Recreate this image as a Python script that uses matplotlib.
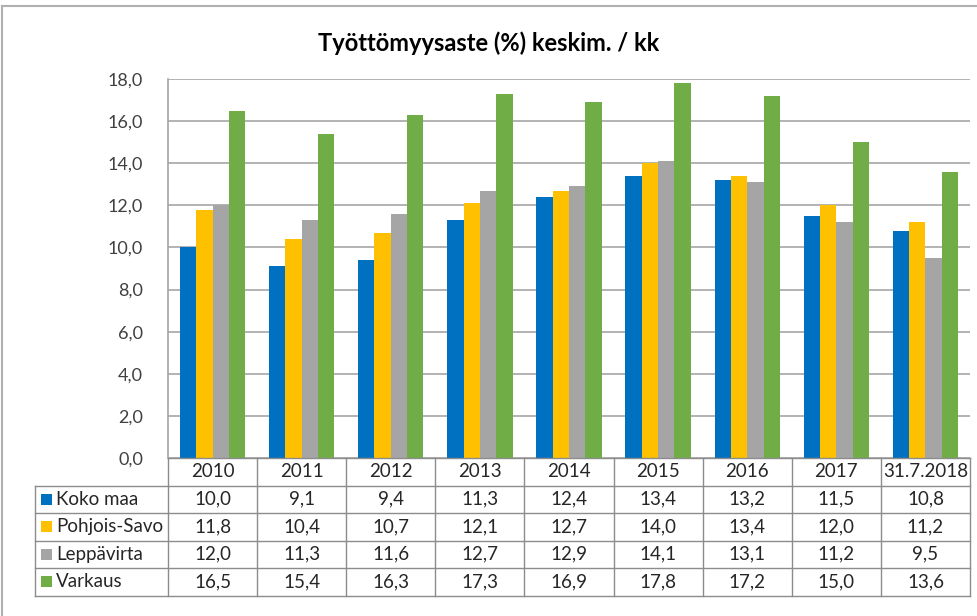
import matplotlib.pyplot as plt
from matplotlib.patches import Rectangle
from matplotlib.lines import Line2D

plt.rcParams["font.family"] = ["Lato", "DejaVu Sans"]

periods = ["2010", "2011", "2012", "2013", "2014", "2015", "2016", "2017", "31.7.2018"]
series_names = ["Koko maa", "Pohjois-Savo", "Leppävirta", "Varkaus"]
koko_maa = [10.0, 9.1, 9.4, 11.3, 12.4, 13.4, 13.2, 11.5, 10.8]
pohjois_savo = [11.8, 10.4, 10.7, 12.1, 12.7, 14.0, 13.4, 12.0, 11.2]
leppavirta = [12.0, 11.3, 11.6, 12.7, 12.9, 14.1, 13.1, 11.2, 9.5]
varkaus = [16.5, 15.4, 16.3, 17.3, 16.9, 17.8, 17.2, 15.0, 13.6]
series_values = [koko_maa, pohjois_savo, leppavirta, varkaus]
colors = ["#0070C0", "#FFC000", "#A5A5A5", "#70AD47"]
yticks = [0, 2, 4, 6, 8, 10, 12, 14, 16, 18]

W, H = 978, 616
fig = plt.figure(figsize=(W / 100, H / 100), dpi=100)


def px(x, y):
    return x / W, 1 - y / H


# outer chart border (only top and left edges are inside the crop)
border_kw = dict(color="#B0B0B0", linewidth=1.5, transform=fig.transFigure)
fig.add_artist(Line2D([px(2, 0)[0], 1.0], [px(0, 6)[1]] * 2, **border_kw))
fig.add_artist(Line2D([px(2, 0)[0]] * 2, [px(0, 6)[1], 0.0], **border_kw))

ax_l, ax_r, ax_t, ax_b = 168, 970, 79, 458
ax = fig.add_axes([ax_l / W, 1 - ax_b / H, (ax_r - ax_l) / W, (ax_b - ax_t) / H])

n = len(periods)
bar_w = 0.183
for i, (vals, col) in enumerate(zip(series_values, colors)):
    xs = [k + (i - 1.5) * bar_w for k in range(n)]
    ax.bar(xs, vals, width=bar_w, color=col, zorder=3)

ax.set_xlim(-0.5, n - 0.5)
ax.set_ylim(0, 18)
ax.set_yticks(yticks)
ax.set_yticklabels([f"{v:.1f}".replace(".", ",") for v in yticks], fontsize=13, color="#404040")
ax.tick_params(axis="y", length=0, pad=18)
ax.set_xticks([])
ax.grid(axis="y", color="#A6A6A6", linewidth=1.2, zorder=0)
for s in ["top", "right", "bottom"]:
    ax.spines[s].set_visible(False)
ax.spines["left"].set_color("#A6A6A6")
ax.spines["left"].set_linewidth(1.2)

fig.text(0.5, 1 - 43 / H, "Työttömyysaste (%) keskim. / kk", ha="center", va="center",
         fontsize=17, fontweight="bold", color="#000000")

# data table under the axis
line_kw = dict(color="#8C8C8C", linewidth=1.0, transform=fig.transFigure)
row_edges = [458, 485.5, 513, 540.5, 568, 595.5]
tab_l = 35
col_w = (ax_r - ax_l) / n
col_edges = [ax_l + k * col_w for k in range(n + 1)]

for j, y in enumerate(row_edges):
    x0 = ax_l if j == 0 else tab_l
    fig.add_artist(Line2D([px(x0, y)[0], px(ax_r, y)[0]], [px(x0, y)[1]] * 2, **line_kw))
for x in col_edges:
    fig.add_artist(Line2D([px(x, 0)[0]] * 2, [px(x, row_edges[0])[1], px(x, row_edges[-1])[1]], **line_kw))
fig.add_artist(Line2D([px(tab_l, 0)[0]] * 2, [px(0, row_edges[1])[1], px(0, row_edges[-1])[1]], **line_kw))

txt_kw = dict(fontsize=13.5, color="#262626", va="center")
for k, p in enumerate(periods):
    cx = (col_edges[k] + col_edges[k + 1]) / 2
    cy = (row_edges[0] + row_edges[1]) / 2
    fig.text(*px(cx, cy), p, ha="center", **txt_kw)

for r, (name, vals, col) in enumerate(zip(series_names, series_values, colors)):
    cy = (row_edges[r + 1] + row_edges[r + 2]) / 2
    fig.add_artist(Rectangle(px(41, cy + 5.5), 11 / W, 11 / H, transform=fig.transFigure,
                             facecolor=col, edgecolor="none"))
    fig.text(*px(56, cy), name, ha="left", **txt_kw)
    for k, v in enumerate(vals):
        cx = (col_edges[k] + col_edges[k + 1]) / 2
        fig.text(*px(cx, cy), f"{v:.1f}".replace(".", ","), ha="center", **txt_kw)

fig.savefig("out.png", dpi=100)
